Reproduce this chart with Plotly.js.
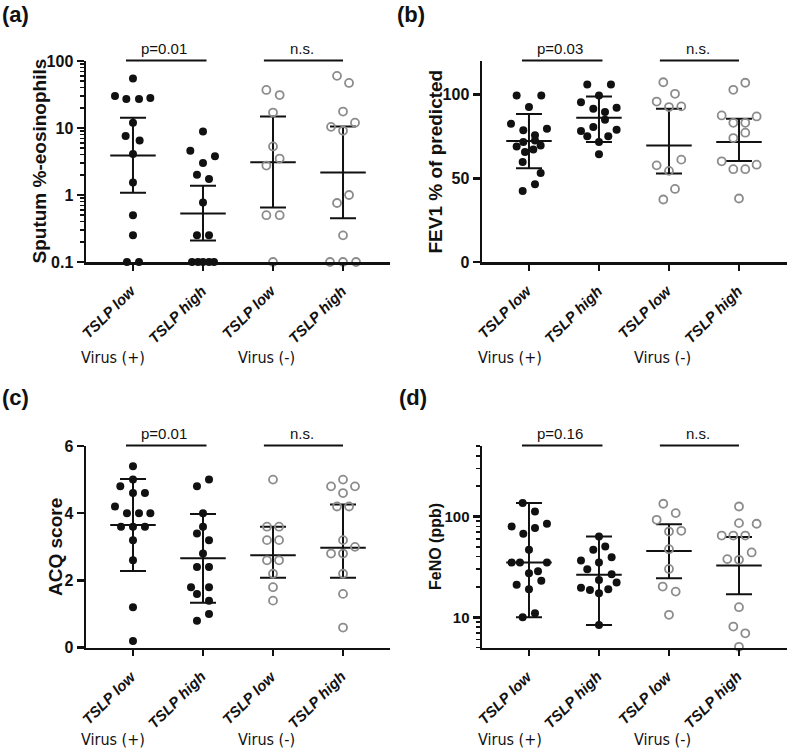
<!DOCTYPE html>
<html>
<head>
<meta charset="utf-8">
<script src="https://cdn.plot.ly/plotly-3.0.1.min.js"></script>
<style>html,body{margin:0;padding:0;background:#fff;}#chart{width:787px;height:750px;}</style>
</head>
<body>
<div id="chart"></div>
<script>
// ---------- categories / labels ----------
const categories = ['TSLP low', 'TSLP high', 'TSLP low', 'TSLP high'];
const virusLabels = ['Virus (+)', 'Virus (-)'];
const panelLabels = ['(a)', '(b)', '(c)', '(d)'];
const yTitles = ['Sputum %-eosinophils', 'FEV1 % of predicted', 'ACQ score', 'FeNO (ppb)'];
const pLabels = [['p=0.01', 'n.s.'], ['p=0.03', 'n.s.'], ['p=0.01', 'n.s.'], ['p=0.16', 'n.s.']];

// ---------- (a) Sputum %-eosinophils ----------
const eosG1 = [55, 30, 27, 27, 28, 12, 7.6, 6.5, 4.1, 1.54, 0.5, 0.25, 0.1, 0.1];
const eosG1Jit = [0, -0.257, -0.095, 0.086, 0.248, 0, -0.105, 0.095, 0, 0, 0, 0, -0.086, 0.086];
const eosG2 = [8.85, 4.56, 3.8, 3.0, 2.0, 1.74, 0.77, 0.25, 0.25, 0.1, 0.1, 0.1, 0.1, 0.1];
const eosG2Jit = [0, -0.181, 0.171, 0, -0.086, 0.086, 0, -0.086, 0.086, -0.157, -0.071, 0, 0.086, 0.157];
const eosG3 = [37, 31, 17, 5.3, 3.5, 2.75, 0.5, 0.5, 0.1];
const eosG3Jit = [-0.095, 0.095, 0, 0, 0.095, -0.095, -0.095, 0.095, 0];
const eosG4 = [60, 47, 17.6, 10.4, 12, 9.1, 1.0, 0.76, 0.25, 0.1, 0.1, 0.1];
const eosG4Jit = [-0.086, 0.086, 0, -0.171, 0.171, 0, 0.086, -0.086, 0, -0.186, 0, 0.186];
const eosMean = [3.9, 0.53, 3.09, 2.17];
const eosLow = [1.08, 0.21, 0.65, 0.45];
const eosHigh = [14.2, 1.37, 14.8, 10.5];

// ---------- (b) FEV1 % of predicted ----------
const fevG1 = [99.4, 99.4, 92.5, 82.5, 79.6, 78.6, 75.6, 72.6, 71.6, 69.0, 69.6, 67.1, 65.7, 59.7, 53.2, 46.4, 42.4];
const fevG1Jit = [-0.176, 0.176, 0, -0.257, 0.257, -0.081, 0.086, 0.086, -0.081, -0.176, 0.167, 0.062, -0.057, -0.09, 0.167, 0.086, -0.09];
const fevG2 = [106, 106, 99.4, 95.4, 91.5, 92.1, 89.5, 84.9, 80.6, 78.2, 79, 75, 75, 71.6, 64.3];
const fevG2Jit = [-0.167, 0.171, 0, -0.257, -0.081, 0.252, 0.086, 0.086, -0.081, -0.257, 0.252, -0.167, 0.133, 0, 0];
const fevG3 = [107.3, 100.4, 95.8, 92.5, 92.9, 61.1, 57.7, 54.4, 43.6, 37.3];
const fevG3Jit = [-0.081, 0.086, -0.176, 0, 0.176, 0.176, -0.176, 0, 0.086, -0.081];
const fevG4 = [102.8, 107, 87.5, 86.9, 83.1, 83.1, 77.2, 74, 60.1, 58.1, 55.4, 55.4, 37.9];
const fevG4Jit = [-0.081, 0.09, -0.247, 0.252, -0.081, 0.09, 0.09, -0.081, -0.247, 0.252, -0.081, 0.09, 0];
const fevMean = [72.2, 86.1, 69.6, 71.6];
const fevLow = [56, 71.6, 52.8, 60.3];
const fevHigh = [88.3, 98.8, 91.5, 85.5];

// ---------- (c) ACQ score ----------
const acqG1 = [5.4, 5.0, 4.8, 4.6, 4.6, 4.2, 4.0, 4.0, 4.0, 3.6, 3.6, 3.6, 3.2, 2.6, 1.2, 0.2];
const acqG1Jit = [0, 0, -0.181, 0, 0.171, -0.257, -0.086, 0.086, 0.248, -0.171, 0, 0.171, 0, 0, 0, 0];
const acqG2 = [5.0, 4.8, 4.0, 3.6, 3.4, 3.2, 2.8, 2.4, 2.4, 1.8, 1.8, 1.6, 1.4, 1.0, 0.8];
const acqG2Jit = [0.086, -0.086, 0, 0, -0.086, 0.086, 0, -0.086, 0.086, -0.171, 0.086, -0.086, 0.086, 0.086, -0.086];
const acqG3 = [5.0, 3.6, 3.6, 3.2, 3.2, 2.6, 2.6, 2.2, 1.8, 1.4];
const acqG3Jit = [0, -0.086, 0.086, -0.086, 0.086, -0.086, 0.086, 0, 0, 0];
const acqG4 = [5.0, 4.8, 4.8, 4.6, 4.2, 4.2, 3.2, 3.0, 2.8, 2.8, 2.2, 1.6, 0.6];
const acqG4Jit = [0, -0.171, 0.171, 0, -0.086, 0.086, 0, 0.171, -0.171, 0, 0, 0, 0];
const acqMean = [3.65, 2.66, 2.75, 2.97];
const acqLow = [2.28, 1.34, 2.08, 2.08];
const acqHigh = [5.02, 3.98, 3.6, 4.26];

// ---------- (d) FeNO (ppb) ----------
const fenoG1 = [135.8, 112, 79.6, 84.7, 76.7, 67.3, 46.7, 34.9, 34.9, 34.9, 27.4, 28.7, 21, 23.1, 19, 11, 10];
const fenoG1Jit = [-0.09, 0.086, -0.248, 0.257, 0.086, -0.081, 0, -0.248, -0.129, 0.257, 0, 0.129, -0.176, 0.176, 0, 0.086, -0.09];
const fenoG2 = [63.2, 50.3, 46.7, 36.6, 34.9, 39.5, 30, 26.8, 23.5, 22.1, 19.7, 18.7, 19, 17.3, 8.4];
const fenoG2Jit = [0, 0.09, -0.081, -0.257, 0, 0.181, -0.167, 0.181, 0, 0.252, -0.257, -0.129, 0.133, 0, 0];
const fenoG3 = [133.7, 108, 92.7, 70.9, 72.1, 47.4, 30.2, 20.2, 18, 10.6];
const fenoG3Jit = [-0.081, 0.096, -0.176, 0, 0.176, 0, 0, -0.09, 0.096, 0];
const fenoG4 = [125.6, 85.9, 84.7, 64.7, 64.7, 64.7, 44, 37.8, 37.2, 12.6, 8.1, 6.95, 5.1];
const fenoG4Jit = [0, 0, 0.252, -0.247, -0.081, 0.09, 0.181, -0.167, 0, 0, -0.081, 0.09, 0];
const fenoMean = [34.9, 26.4, 45.6, 32.6];
const fenoLow = [10, 8.4, 24.4, 16.9];
const fenoHigh = [135.8, 63.2, 84, 62.5];

// ---------- build ----------
const FONT = 'Liberation Sans, Arial, Helvetica, sans-serif';
const NARROW = 'DejaVu Sans Condensed, Liberation Sans Narrow, Liberation Sans, sans-serif';
const GRAY = 'rgb(140,140,140)';

const panels = [
  {groups: [[eosG1, eosG1Jit], [eosG2, eosG2Jit], [eosG3, eosG3Jit], [eosG4, eosG4Jit]], mean: eosMean, lo: eosLow, hi: eosHigh},
  {groups: [[fevG1, fevG1Jit], [fevG2, fevG2Jit], [fevG3, fevG3Jit], [fevG4, fevG4Jit]], mean: fevMean, lo: fevLow, hi: fevHigh},
  {groups: [[acqG1, acqG1Jit], [acqG2, acqG2Jit], [acqG3, acqG3Jit], [acqG4, acqG4Jit]], mean: acqMean, lo: acqLow, hi: acqHigh},
  {groups: [[fenoG1, fenoG1Jit], [fenoG2, fenoG2Jit], [fenoG3, fenoG3Jit], [fenoG4, fenoG4Jit]], mean: fenoMean, lo: fenoLow, hi: fenoHigh}
];

const traces = [];
panels.forEach((p, k) => {
  const xa = 'x' + (k + 1), ya = 'y' + (k + 1);
  const idx = [0, 1, 2, 3];
  traces.push({
    type: 'scatter', mode: 'markers', xaxis: xa, yaxis: ya, hoverinfo: 'skip', showlegend: false,
    x: idx, y: p.mean, marker: {size: 1, color: 'rgba(0,0,0,0)'}, cliponaxis: false,
    error_y: {type: 'data', symmetric: false,
      array: p.hi.map((h, i) => h - p.mean[i]),
      arrayminus: p.lo.map((l, i) => p.mean[i] - l),
      color: '#111', thickness: 2, width: 13}
  });
  const mx = [], my = [];
  idx.forEach(i => { mx.push(i - 0.325, i + 0.325, null); my.push(p.mean[i], p.mean[i], null); });
  traces.push({type: 'scatter', mode: 'lines', xaxis: xa, yaxis: ya, hoverinfo: 'skip', showlegend: false,
    x: mx, y: my, line: {color: '#111', width: 2}, cliponaxis: false});
  p.groups.forEach((g, i) => {
    const open = i >= 2;
    traces.push({
      type: 'scatter', mode: 'markers', xaxis: xa, yaxis: ya, showlegend: false, cliponaxis: false,
      x: g[1].map(j => i + j), y: g[0],
      marker: open ? {symbol: 'circle-open', size: 8, color: GRAY, line: {width: 1.8, color: GRAY}}
                   : {symbol: 'circle', size: 8, color: '#111'}
    });
  });
});

const W = 787, H = 750;
const xA = [86 / W, 390 / W], xB = [482 / W, 1];
const yTop = [1 - 262 / H, 1 - 61 / H], yBot = [1 - 647.7 / H, 1 - 446 / H];
const xRangeL = [-0.671, 3.671], xRangeR = [-0.671, 3.686];

function xaxis(domain, range, anchor) {
  return {domain, range, anchor, tickmode: 'array', tickvals: [0, 1, 2, 3], ticktext: categories,
    showticklabels: false, ticks: 'outside', ticklen: 6, tickwidth: 2.5, tickcolor: '#111',
    showline: true, linewidth: 2.5, linecolor: '#111', showgrid: false, zeroline: false};
}
function yaxisBase(domain, anchor) {
  return {domain, anchor, ticks: 'outside', ticklen: 7, tickwidth: 2.5, tickcolor: '#111',
    showline: true, linewidth: 2.5, linecolor: '#111', showgrid: false, zeroline: false,
    tickfont: {family: FONT, size: 16, weight: 'bold', color: '#111'}};
}
const minorLog = {ticks: 'outside', ticklen: 4, tickwidth: 1.5, tickcolor: '#111', dtick: 'D1', showgrid: false};

const layout = {
  width: W, height: H, margin: {l: 0, r: 0, t: 0, b: 0},
  paper_bgcolor: '#fff', plot_bgcolor: 'rgba(0,0,0,0)', showlegend: false,
  font: {family: FONT, color: '#111'},
  xaxis: xaxis(xA, xRangeL, 'y'),
  xaxis2: xaxis(xB, xRangeR, 'y2'),
  xaxis3: xaxis(xA, xRangeL, 'y3'),
  xaxis4: xaxis(xB, xRangeR, 'y4'),
  yaxis: Object.assign(yaxisBase(yTop, 'x'), {type: 'log', range: [-1, 2], tickmode: 'array', tickvals: [0.1, 1, 10, 100], ticktext: ['0.1', '1', '10', '100'], minor: minorLog}),
  yaxis2: Object.assign(yaxisBase(yTop, 'x2'), {range: [0, 120], tickmode: 'array', tickvals: [0, 50, 100]}),
  yaxis3: Object.assign(yaxisBase(yBot, 'x3'), {range: [0, 6], tickmode: 'array', tickvals: [0, 2, 4, 6]}),
  yaxis4: Object.assign(yaxisBase(yBot, 'x4'), {type: 'log', range: [Math.log10(5), Math.log10(500)], tickmode: 'array', tickvals: [10, 100], ticktext: ['10', '100'], minor: minorLog,
    tickfont: {family: FONT, size: 15, weight: 'bold', color: '#111'}}),
  shapes: [], annotations: []
};

// significance bars and text
const sigBars = [[-0.1, 1.05], [1.87, 3.0]];
const sigText = [0.45, 2.42];
// category labels (rotated 45°), below each x axis
const axisBottomPx = [262, 262, 647.7, 647.7];
for (let k = 0; k < 4; k++) {
  const xa = 'x' + (k + 1), yd = (k === 0 ? 'y' : 'y' + (k + 1)) + ' domain';
  sigBars.forEach((b, j) => {
    layout.shapes.push({type: 'line', xref: xa, yref: yd, x0: b[0], x1: b[1], y0: 1.003, y1: 1.003, line: {color: '#111', width: 2}});
    layout.annotations.push({xref: xa, yref: yd, x: sigText[j], y: 1.003, yanchor: 'bottom', yshift: 1, showarrow: false,
      text: pLabels[k][j], font: {family: FONT, size: 15, color: '#111'}});
  });
  categories.forEach((c, i) => layout.annotations.push({xref: xa, yref: 'paper', x: i, xshift: 9,
    y: 1 - (axisBottomPx[k] + 17) / H, xanchor: 'right', yanchor: 'top', textangle: -45, showarrow: false,
    text: c, font: {family: FONT, size: 15, weight: 'bold', style: 'italic', color: '#111'}}));
}

const panelPos = [[0, 0], [395, 0], [0, 383], [397, 383]];
panelPos.forEach((pp, k) => layout.annotations.push({xref: 'paper', yref: 'paper', x: pp[0] / W, y: 1 - pp[1] / H,
  xanchor: 'left', yanchor: 'top', showarrow: false, text: panelLabels[k], font: {family: FONT, size: 22, weight: 'bold', color: '#111'}}));

const yTitlePos = [[39, 161.5, 19], [435, 161.5, 19], [55, 547, 19], [435, 547, 16]];
yTitlePos.forEach((tp, k) => layout.annotations.push({xref: 'paper', yref: 'paper', x: tp[0] / W, y: 1 - tp[1] / H,
  xanchor: 'center', yanchor: 'middle', textangle: -90, showarrow: false, text: yTitles[k],
  font: {family: FONT, size: tp[2], weight: 'bold', color: '#111'}}));

const virusX = [[113, 266], [510, 662]];
const virusY = [357, 739];
virusY.forEach(vy => virusX.forEach(vx => vx.forEach((x, j) => layout.annotations.push({xref: 'paper', yref: 'paper',
  x: x / W, y: 1 - vy / H, xanchor: 'center', yanchor: 'middle', showarrow: false, text: virusLabels[j],
  font: {family: NARROW, size: 16, color: '#111'}}))));

Plotly.newPlot('chart', traces, layout, {staticPlot: true, displayModeBar: false});
</script>
</body>
</html>
